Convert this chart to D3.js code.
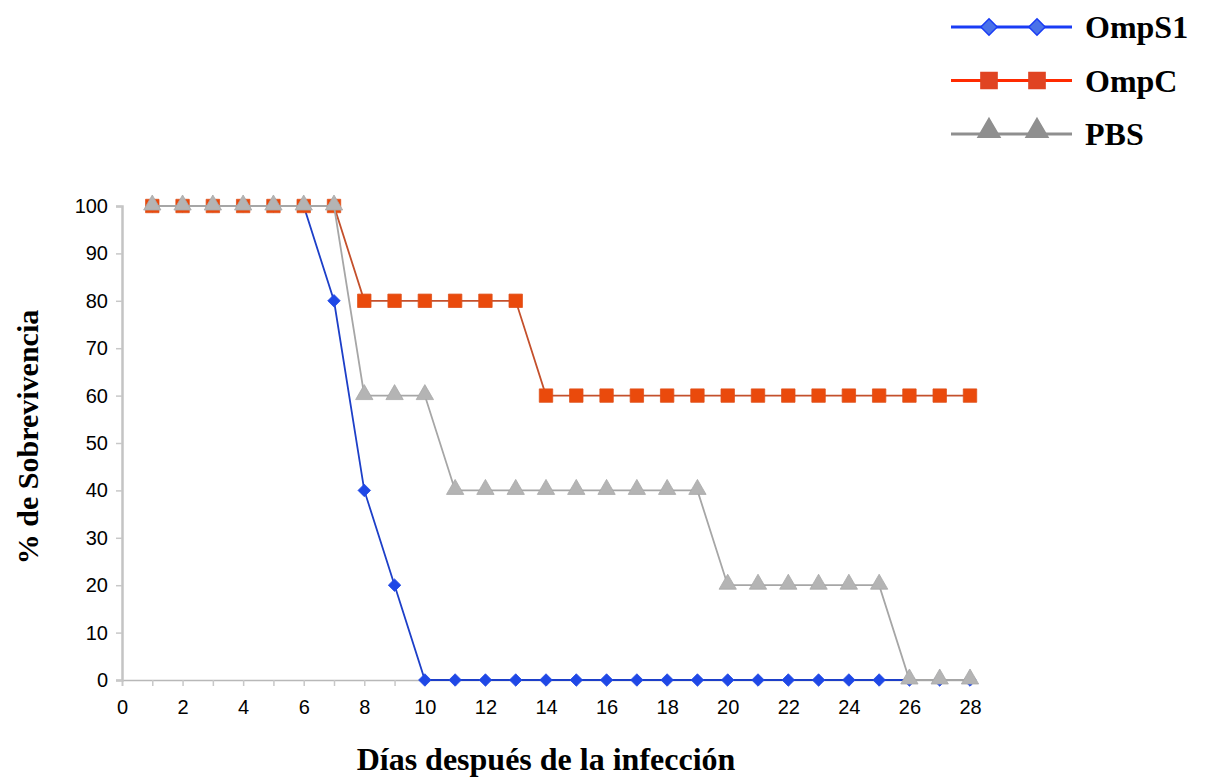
<!DOCTYPE html>
<html>
<head>
<meta charset="utf-8">
<script src="https://cdn.jsdelivr.net/npm/d3@7"></script>
<style>
  body { margin: 0; background: #fff; }
  svg { display: block; }
</style>
</head>
<body>
<svg id="chart" width="1208" height="780"></svg>
<script>
// Survival data: percentage alive per day after infection
const days = d3.range(1, 29);
const ompS1 = [100,100,100,100,100,100,80,40,20,0,0,0,0,0,0,0,0,0,0,0,0,0,0,0,0,0,0,0];
const ompC  = [100,100,100,100,100,100,100,80,80,80,80,80,80,60,60,60,60,60,60,60,60,60,60,60,60,60,60,60];
const pbs   = [100,100,100,100,100,100,100,60,60,60,40,40,40,40,40,40,40,40,40,20,20,20,20,20,20,0,0,0];
const seriesNames = ["OmpS1", "OmpC", "PBS"];
const xTicks = d3.range(0, 29, 2);
const yTicks = d3.range(0, 101, 10);

const svg = d3.select("#chart");
const x = d3.scaleLinear().domain([0, 28]).range([122, 970]);
const y = d3.scaleLinear().domain([0, 100]).range([680, 206]);

const styles = {
  OmpS1: { line: "#1d3fc8", fill: "#1f48e6", stroke: "#1f48e6", symbol: d3.symbolDiamond2, size: 100, legLine: "#1a3cf5", legFill: "#4a72e8", legStroke: "#1a3cf5" },
  OmpC:  { line: "#c4502c", fill: "#ea4a0c", stroke: "#e0501c", symbol: d3.symbolSquare, size: 180, legLine: "#ff2a00", legFill: "#e04422", legStroke: "#e04422" },
  PBS:   { line: "#a6a6a6", fill: "#b4b4b4", stroke: "#a8a8a8", symbol: d3.symbolTriangle, size: 130, legLine: "#8f8f8f", legFill: "#8f8f8f", legStroke: "#8f8f8f" }
};
const valuesByName = { OmpS1: ompS1, OmpC: ompC, PBS: pbs };

const tickFont = "Liberation Sans, Arial, sans-serif";
const titleFont = "Liberation Serif, Times New Roman, serif";

// Axes
const gx = svg.append("g").attr("transform", `translate(0,${y(0)})`)
  .call(d3.axisBottom(x).tickValues(d3.range(0, 29)).tickSize(6)
    .tickFormat(d => xTicks.includes(d) ? d : ""));
gx.select(".domain").attr("stroke", "#b8b8b8").attr("stroke-width", 1.5);
gx.selectAll(".tick line").attr("stroke", "#c8c8c8").attr("stroke-width", 1.5);
gx.selectAll(".tick text").attr("font-family", tickFont)
  .attr("font-size", 20).attr("fill", "#000").attr("y", 20).attr("dy", "0.71em");

const gy = svg.append("g").attr("transform", `translate(${x(0)},0)`)
  .call(d3.axisLeft(y).tickValues(yTicks).tickSize(6).tickPadding(8));
gy.select(".domain").attr("stroke", "#c4c4c4").attr("stroke-width", 2.5);
gy.selectAll(".tick line").attr("stroke", "#c8c8c8").attr("stroke-width", 1.5);
gy.selectAll(".tick text").attr("font-family", tickFont)
  .attr("font-size", 20).attr("fill", "#000");

// Series lines and markers
const line = d3.line().x((d, i) => x(days[i])).y(d => y(d));
seriesNames.forEach(name => {
  const s = styles[name];
  const vals = valuesByName[name];
  const g = svg.append("g");
  g.append("path").datum(vals).attr("d", line)
    .attr("fill", "none").attr("stroke", s.line).attr("stroke-width", 1.8);
  g.selectAll("path.m").data(vals).join("path").attr("class", "m")
    .attr("transform", (d, i) => `translate(${x(days[i])},${y(d) + (name === "PBS" ? -1 : 0)})`)
    .attr("d", d3.symbol().type(s.symbol).size(s.size))
    .attr("fill", s.fill).attr("stroke", s.stroke).attr("stroke-width", 0.8);
});

// Legend
const legend = svg.append("g");
seriesNames.forEach((name, i) => {
  const s = styles[name];
  const ly = 27 + i * 53.5;
  legend.append("line").attr("x1", 951).attr("x2", 1072).attr("y1", ly).attr("y2", ly)
    .attr("stroke", s.legLine).attr("stroke-width", 3);
  [989, 1037].forEach(mx => {
    legend.append("path")
      .attr("transform", `translate(${mx},${ly + (name === "PBS" ? -3 : 0)})`)
      .attr("d", d3.symbol().type(s.symbol).size(name === "OmpS1" ? 170 : name === "OmpC" ? 260 : 210))
      .attr("fill", s.legFill).attr("stroke", s.legStroke).attr("stroke-width", 1.5);
  });
  legend.append("text").attr("x", 1085).attr("y", ly).attr("dy", "0.35em")
    .attr("font-family", titleFont).attr("font-weight", "bold")
    .attr("font-size", 32).text(name);
});

// Axis titles
svg.append("text").attr("x", 546).attr("y", 770).attr("text-anchor", "middle")
  .attr("font-family", titleFont).attr("font-weight", "bold")
  .attr("font-size", 32).text("Días después de la infección");
svg.append("text").attr("transform", "translate(38,437) rotate(-90)").attr("text-anchor", "middle")
  .attr("font-family", titleFont).attr("font-weight", "bold")
  .attr("font-size", 30).text("% de Sobrevivencia");
</script>
</body>
</html>
